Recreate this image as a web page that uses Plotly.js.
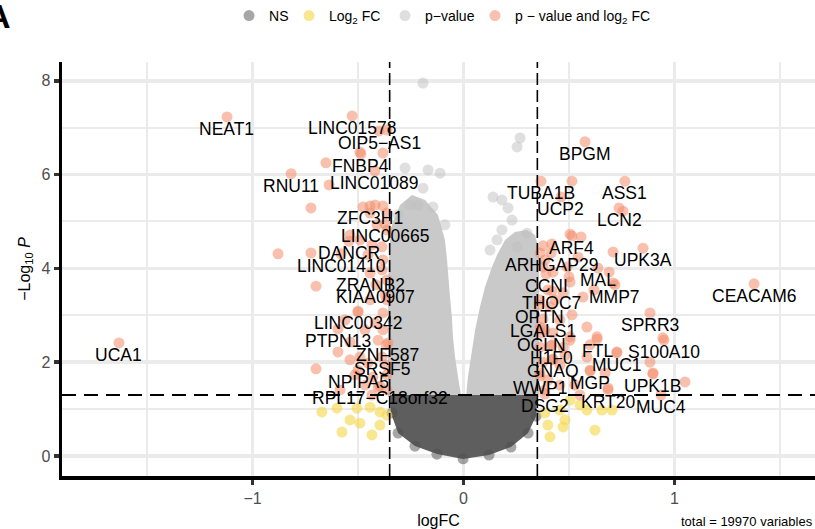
<!DOCTYPE html>
<html>
<head>
<meta charset="utf-8">
<script src="https://cdn.plot.ly/plotly-3.0.1.min.js"></script>
<style>
html,body{margin:0;padding:0;background:#fff;}
#chart{width:815px;height:529px;}
</style>
</head>
<body>
<div id="chart"></div>
<script>
// ---------------- data ----------------
// labelled genes (p-value and log2 FC significant)
const labelGenes = ["NEAT1","LINC01578","OIP5\u2212AS1","FNBP4","LINC01089","RNU11","ZFC3H1","LINC00665","DANCR","LINC01410","ZRANB2","KIAA0907","LINC00342","PTPN13","ZNF587","SRSF5","NPIPA5","RPL17\u2212C18orf32","UCA1",
  "BPGM","TUBA1B","UCP2","ASS1","LCN2","ARF4","ARHGAP29","UPK3A","MAL","CCNI","MMP7","CEACAM6","THOC7","OPTN","SPRR3","LGALS1","OCLN","FTL","S100A10","H1F0","MUC1","GNAQ","MGP","UPK1B","WWP1","KRT20","DSG2","MUC4"];
const labelLogFC = [-1.121,-0.528,-0.400,-0.486,-0.420,-0.817,-0.443,-0.372,-0.543,-0.580,-0.443,-0.415,-0.500,-0.595,-0.358,-0.386,-0.500,-0.396,-1.633,
  0.576,0.367,0.462,0.765,0.737,0.514,0.415,0.851,0.637,0.391,0.718,1.377,0.419,0.360,0.884,0.377,0.372,0.633,0.950,0.415,0.727,0.424,0.600,0.898,0.363,0.685,0.386,0.936];
const labelNegLogP = [7.23,7.25,6.93,6.44,6.08,6.02,5.33,4.95,4.58,4.31,3.90,3.65,3.09,2.71,2.41,2.11,1.83,1.49,2.41,
  6.70,5.86,5.52,5.86,5.29,4.69,4.33,4.43,4.01,3.88,3.65,3.67,3.52,3.22,3.05,2.92,2.62,2.49,2.47,2.35,2.20,2.07,1.81,1.75,1.71,1.41,1.32,1.30];

// other significant (p-value and log2 FC) genes, unlabelled
const bothLogFC = [-0.652,-0.491,-0.637,-0.723,-0.879,-0.723,-0.699,-0.363,-0.382,-0.476,-0.419,-0.382,-0.443,-0.363,-0.538,-0.491,-0.434,-0.386,-0.382,-0.386,-0.363,-0.500,-0.382,-0.419,-0.382,-0.538,-0.595,-0.538,-0.491,-0.699,-0.429,-0.405,-0.453,-0.372,-0.443,-0.367,-0.367,-0.467,
  -0.363,-0.410,-0.453,-0.363,-0.405,-0.467,-0.562,-0.363,-0.514,-0.363,-0.434,-0.585,
  0.514,0.756,0.505,0.557,0.377,0.419,0.709,0.709,0.514,0.543,0.491,0.566,0.585,0.945,0.633,0.727,0.884,0.898,1.050,0.600,0.671,0.685,0.386,0.400,0.434,0.457,0.386,0.419,0.481,0.457,0.400,0.528,0.600,0.690,0.500,0.618,0.377,0.386,0.505,
  0.363,0.377,0.424,0.505,0.472,0.363,0.410,0.363,0.424,0.505,0.363,0.472,0.585,0.424,0.363,0.457,0.552];
const bothNegLogP = [6.25,6.48,5.78,5.29,4.31,4.33,3.62,6.95,6.46,5.31,5.35,5.33,5.18,5.18,4.71,4.61,4.50,4.46,4.18,3.97,3.75,3.07,3.05,2.84,2.69,2.43,2.22,2.05,2.11,1.86,1.68,1.47,1.98,3.43,3.33,2.37,1.94,1.51,
  4.82,4.93,4.29,3.33,2.47,2.69,2.90,1.73,1.73,1.41,1.30,1.41,
  5.86,5.22,4.73,4.67,4.48,4.52,4.35,3.69,3.01,4.24,4.03,3.39,2.75,2.52,2.54,2.22,2.00,1.77,1.58,1.83,1.77,1.45,4.18,3.54,3.33,2.90,2.69,2.37,2.15,1.94,1.62,1.51,2.37,3.92,3.82,3.54,2.00,1.41,2.47,
  4.33,4.03,3.92,3.71,3.48,3.33,3.18,2.75,2.62,2.54,2.32,2.32,2.11,2.05,1.77,1.51,1.30];

// log2 FC only
const fcLogFC = [-0.671,-0.600,-0.576,-0.505,-0.443,-0.396,-0.491,-0.396,-0.363,-0.434,-0.538,
  0.386,0.457,0.481,0.585,0.656,0.704,0.623,0.410,0.472,0.505,0.400,0.552];
const fcNegLogP = [0.94,1.02,0.51,1.02,1.04,0.94,0.70,0.66,0.87,0.45,0.77,
  0.92,0.98,0.77,0.98,0.98,0.98,0.55,0.41,0.62,1.19,0.66,1.09];

// p-value only: outlying points
const pLogFC = [-0.192,-0.277,-0.168,-0.111,-0.192,-0.145,-0.216,-0.088,0.140,0.182,0.211,0.182,0.268,0.254,0.301,0.159,0.254,0.230,0.126,-0.310,-0.254];
const pNegLogP = [7.95,6.14,6.10,6.03,5.71,5.31,5.35,4.93,5.52,5.46,5.29,4.82,6.78,6.59,4.75,4.61,4.46,5.03,4.39,5.14,5.35];
// p-value only: outline of the dense cloud
const pCloudLogFC = [-0.358,-0.358,-0.353,-0.339,-0.301,-0.244,-0.182,-0.121,-0.088,-0.078,-0.064,-0.055,-0.050,-0.040,-0.026,-0.012,-0.002,0.012,0.021,0.040,0.055,0.078,0.102,0.135,0.159,0.197,0.244,0.301,0.339,0.358,0.358,0.358];
const pCloudNegLogP = [1.258,3.326,4.392,4.925,5.352,5.565,5.458,5.139,4.606,4.179,3.390,2.964,2.537,2.111,1.684,1.301,1.215,1.258,1.684,2.260,2.687,3.177,3.603,4.030,4.286,4.606,4.776,4.819,4.712,4.392,3.326,1.258];

// NS: outline of the dense cloud and edge points
const nsCloudLogFC = [-0.348,-0.344,-0.310,-0.230,-0.126,-0.002,0.121,0.225,0.306,0.344,0.348];
const nsCloudNegLogP = [1.30,0.917,0.490,0.213,0.043,-0.064,0.021,0.192,0.490,0.853,1.30];
const nsLogFC = [-0.310,-0.230,-0.126,-0.002,0.121,0.225,0.306,0.344,-0.339];
const nsNegLogP = [0.49,0.21,0.04,-0.06,0.02,0.19,0.49,0.85,0.92];

const fcCut = [-0.35, 0.35];
const pCut = 1.30;
const totalText = "total = 19970 variables";

// ---------------- figure ----------------
const FONT = "Liberation Sans, Arial, Helvetica, sans-serif";
const msize = 11;

const traces = [
  {x: pCloudLogFC, y: pCloudNegLogP, type:'scatter', mode:'lines', fill:'toself',
   fillcolor:'#c9c9c9', line:{width:0, color:'#c9c9c9'}, showlegend:false, hoverinfo:'skip'},
  {x: nsCloudLogFC, y: nsCloudNegLogP, type:'scatter', mode:'lines', fill:'toself',
   fillcolor:'#5e5e5e', line:{width:0, color:'#5e5e5e'}, showlegend:false, hoverinfo:'skip'},
  {x: nsLogFC, y: nsNegLogP, type:'scatter', mode:'markers', name:'NS', legendrank:1, legendwidth:15,
   marker:{size:msize, color:'rgba(77,77,77,0.5)', line:{width:0}}},
  {x: pLogFC, y: pNegLogP, type:'scatter', mode:'markers', name:'p\u2212value', legendrank:3, legendwidth:45,
   marker:{size:msize, color:'rgba(192,192,192,0.5)', line:{width:0}}},
  {x: fcLogFC, y: fcNegLogP, type:'scatter', mode:'markers', name:'Log<sub>2</sub> FC', legendrank:2, legendwidth:51,
   marker:{size:msize, color:'rgba(245,215,70,0.6)', line:{width:0}}},
  {x: labelLogFC.concat(bothLogFC), y: labelNegLogP.concat(bothNegLogP), type:'scatter', mode:'markers',
   name:'p \u2212 value and log<sub>2</sub> FC', legendrank:4,
   marker:{size:msize, color:'rgba(242,140,105,0.55)', line:{width:0}}}
];

const annotations = labelGenes.map((g,i)=>({
  x: labelLogFC[i], y: labelNegLogP[i], xref:'x', yref:'y', text:g, showarrow:false,
  yshift:-12, font:{family:FONT, size:17.5, color:'#000'}
}));
annotations.push({xref:'paper', yref:'paper', x:1, y:-0.109, xanchor:'right', yanchor:'middle',
  text: totalText, showarrow:false, font:{family:FONT, size:13, color:'#000'}});
annotations.push({xref:'paper', yref:'paper', x:-0.0837, y:1.162, xanchor:'center', yanchor:'top',
  text:'<b>A</b>', showarrow:false, font:{family:FONT, size:34, color:'#000'}});

const shapes = [
  {type:'line', xref:'x', yref:'paper', x0:fcCut[0], x1:fcCut[0], y0:0, y1:1, line:{color:'#000', width:1.6, dash:'12px,5px'}},
  {type:'line', xref:'x', yref:'paper', x0:fcCut[1], x1:fcCut[1], y0:0, y1:1, line:{color:'#000', width:1.6, dash:'12px,5px'}},
  {type:'line', xref:'paper', yref:'y', x0:0, x1:1, y0:pCut, y1:pCut, line:{color:'#000', width:2, dash:'14px,8px'}}
];

const layout = {
  width:815, height:529,
  margin:{l:62, r:0, t:62, b:53, pad:0},
  paper_bgcolor:'#fff', plot_bgcolor:'#fff',
  font:{family:FONT, color:'#000'},
  showlegend:true,
  legend:{orientation:'h', xref:'paper', yref:'container', x:0.2218, xanchor:'left', y:1, yanchor:'top',
    font:{family:FONT, size:14, color:'#000'}, itemwidth:30, traceorder:'normal', bgcolor:'rgba(0,0,0,0)'},
  xaxis:{range:[-1.903, 1.666], tickvals:[-1,0,1], ticks:'outside', ticklen:5, tickwidth:3.5, tickcolor:'#333',
    showline:true, linecolor:'#000', linewidth:3.5, zeroline:false,
    showgrid:true, gridcolor:'#ebebeb', gridwidth:3.5,
    minor:{tickvals:[-1.5,-0.5,0.5,1.5], showgrid:true, gridcolor:'#ebebeb', gridwidth:2, ticks:''},
    tickfont:{family:FONT, size:16, color:'#4d4d4d'},
    title:{text:'logFC', font:{family:FONT, size:16, color:'#000'}, standoff:10}},
  yaxis:{range:[-0.426, 8.40], tickvals:[0,2,4,6,8], ticks:'outside', ticklen:5, tickwidth:3.5, tickcolor:'#333',
    showline:true, linecolor:'#000', linewidth:3.5, zeroline:false,
    showgrid:true, gridcolor:'#ebebeb', gridwidth:3.5,
    minor:{tickvals:[1,3,5,7], showgrid:true, gridcolor:'#ebebeb', gridwidth:2, ticks:''},
    tickfont:{family:FONT, size:16, color:'#4d4d4d'},
    title:{text:'\u2212Log<sub>10</sub> <i>P</i>', font:{family:FONT, size:16, color:'#000'}, standoff:8}},
  shapes: shapes,
  annotations: annotations
};

Plotly.newPlot('chart', traces, layout, {displayModeBar:false, staticPlot:true});
</script>
</body>
</html>
